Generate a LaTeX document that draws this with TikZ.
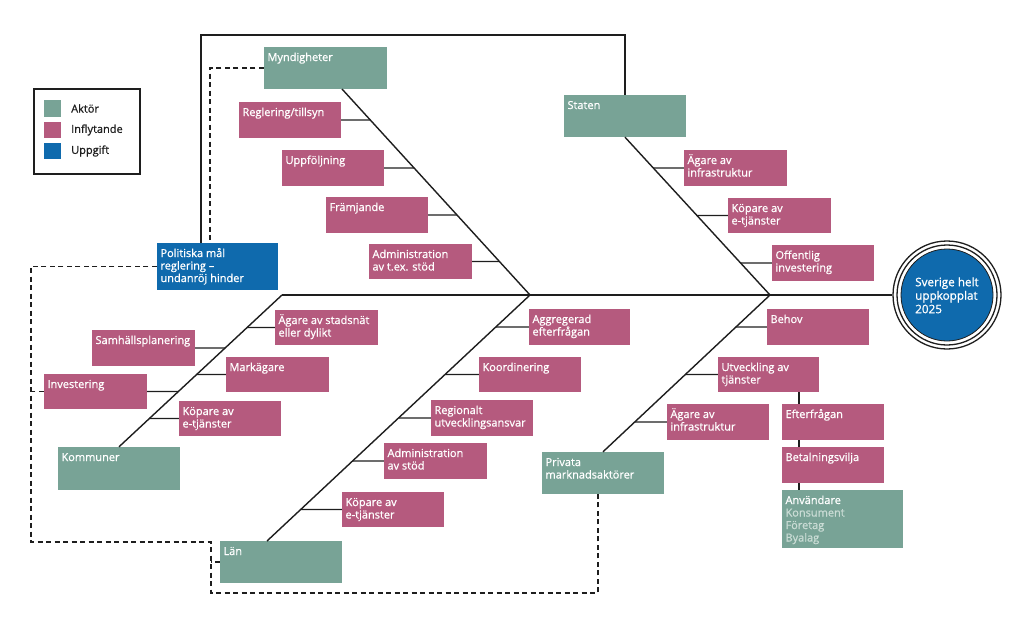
\documentclass[tikz,border=0pt]{standalone}
\usepackage{fontspec}
\setmainfont{Open Sans}[FakeBold=0.8,AutoFakeBold=0.8]
\usetikzlibrary{fit,calc}
\definecolor{aktor}{HTML}{78A396}
\definecolor{infl}{HTML}{B55A7E}
\definecolor{uppg}{HTML}{0F6AAD}
\definecolor{subtxt}{HTML}{CADCD5}
\definecolor{ln}{HTML}{1E1E1E}
\newcommand\fs{\fontsize{11}{12.5}\selectfont\bfseries}
\newcommand\ts{\rule{0pt}{10pt}}
\tikzset{
 box/.style={inner sep=0pt, draw=none},
 aktbox/.style={box, fill=aktor},
 inflbox/.style={box, fill=infl},
 uppbox/.style={box, fill=uppg},
 lbl/.style={anchor=north west, inner xsep=3.5pt, inner ysep=4pt, text=white, font=\fs, align=left},
 line/.style={draw=ln, line width=1.4pt},
 dline/.style={draw=ln, line width=1.4pt, dash pattern=on 5pt off 3.5pt},
 legtxt/.style={anchor=west, font=\fs, text=ln, inner sep=0pt},
}
\newcommand\bx[4]{\node[#1, fit={#3}, label={[lbl]north west:{\ts #4}}] (#2) {};}
\begin{document}
\begin{tikzpicture}[x=1pt,y=-1pt]
\useasboundingbox (0,0) rectangle (1024,618);
% legend
\node[draw=ln, line width=1.4pt, fit={(34,89) (140,174)}, inner sep=0pt] (legend) {};
\node[aktbox, fit={(44,100) (61,117)}] (swA) {};
\node[inflbox, fit={(44,122) (61,138)}] (swI) {};
\node[uppbox, fit={(44,143) (61,159)}] (swU) {};
\node[legtxt] (tA) at (71,108.5) {Aktör};
\node[legtxt] (tI) at (71,130) {Inflytande};
\node[legtxt] (tU) at (71,151) {Uppgift};
% actors
\bx{aktbox}{myn}{(264,47) (387,89)}{Myndigheter}
\bx{aktbox}{staten}{(564,95) (686,137)}{Staten}
\bx{aktbox}{kommuner}{(58,447) (180,490)}{Kommuner}
\bx{aktbox}{lan}{(220,541) (342,583)}{Län}
\bx{aktbox}{privata}{(542,452) (664,494)}{Privata\\marknadsaktörer}
\bx{aktbox}{anv}{(782,490) (903,548)}{Användare\\\textcolor{subtxt}{\mdseries Konsument}\\\textcolor{subtxt}{\mdseries Företag}\\\textcolor{subtxt}{\mdseries Byalag}}
% task
\bx{uppbox}{pol}{(157,243) (278,290)}{Politiska mål\\reglering –\\undanröj hinder}
% influences
\bx{inflbox}{regl}{(239,102) (341,138)}{Reglering/tillsyn}
\bx{inflbox}{uppf}{(282,150) (384,186)}{Uppföljning}
\bx{inflbox}{framj}{(326,197) (428,233)}{Främjande}
\bx{inflbox}{admA}{(369,244) (472,279)}{Administration\\av t.ex. stöd}
\bx{inflbox}{sAgare}{(684,150) (787,186)}{Ägare av\\infrastruktur}
\bx{inflbox}{sKop}{(728,198) (831,233)}{Köpare av\\e-tjänster}
\bx{inflbox}{sOff}{(772,245) (874,281)}{Offentlig\\investering}
\bx{inflbox}{samh}{(92,330) (195,366)}{Samhällsplanering}
\bx{inflbox}{inv}{(44,374) (147,409)}{Investering}
\bx{inflbox}{stads}{(275,310) (378,345)}{Ägare av stadsnät\\eller dylikt}
\bx{inflbox}{mark}{(226,357) (329,392)}{Markägare}
\bx{inflbox}{kKop}{(179,401) (281,436)}{Köpare av\\e-tjänster}
\bx{inflbox}{aggr}{(529,309) (630,345)}{Aggregerad\\efterfrågan}
\bx{inflbox}{koord}{(479,357) (581,392)}{Koordinering}
\bx{inflbox}{reg}{(431,400) (533,436)}{Regionalt\\utvecklingsansvar}
\bx{inflbox}{admL}{(384,443) (487,479)}{Administration\\av stöd}
\bx{inflbox}{lKop}{(342,492) (444,527)}{Köpare av\\e-tjänster}
\bx{inflbox}{behov}{(767,309) (869,345)}{Behov}
\bx{inflbox}{utv}{(718,357) (819,392)}{Utveckling av\\tjänster}
\bx{inflbox}{pAgare}{(667,404) (769,440)}{Ägare av\\infrastruktur}
\bx{inflbox}{eft}{(782,404) (884,440)}{Efterfrågan}
\bx{inflbox}{betal}{(782,447) (884,483)}{Betalningsvilja}
% goal
\node[circle, draw=ln, line width=1.3pt, minimum size=108pt, inner sep=0pt] (goal) at (947,295) {};
\node[circle, draw=ln, line width=1.3pt, minimum size=100pt, inner sep=0pt] (goalmid) at (goal) {};
\node[circle, fill=uppg, draw=ln, line width=0.8pt, minimum size=92pt, inner sep=0pt] (goalin) at (goal) {};
\node[anchor=north west, inner sep=0pt, text=white, font=\fontsize{11.7}{13.5}\selectfont\bfseries, align=left] (goaltxt) at (915,276) {\ts Sverige helt\\uppkopplat\\2025};
% coordinates
\coordinate (H0) at (282,295);
\coordinate (J1) at (530,295);
\coordinate (J2) at (770,295);
\coordinate (mynS) at (342,89);
\coordinate (lanN) at (267,541);
\coordinate (polN) at (201,243);
\coordinate (top1) at (201,35);
\coordinate (top2) at (625,35);
\coordinate (dX) at (210,0);
\coordinate (dA) at (31,542);
\coordinate (dB) at (211,593);
\coordinate (dC) at (598,593);
\coordinate (ux) at (799,0);
% main lines
\draw[line] (H0) -- (goal.west);
\draw[line] (polN) -- (top1) -- (top2) -- (staten.north);
\draw[line] (mynS) -- (J1);
\draw[line] (lanN) -- (J1);
\draw[line] (staten.south) -- (J2);
\draw[line] (privata.north) -- (J2);
\draw[line] (kommuner.north) -- (H0);
% ticks
\foreach \b in {regl,uppf,framj,admA}{
 \draw[line] (\b.east) -- (intersection of \b.east--\b.west and mynS--J1);}
\foreach \b in {sAgare,sKop,sOff}{
 \draw[line] (\b.west) -- (intersection of \b.east--\b.west and staten.south--J2);}
\foreach \b in {samh,inv}{
 \draw[line] (\b.east) -- (intersection of \b.east--\b.west and kommuner.north--H0);}
\foreach \b in {stads,mark,kKop}{
 \draw[line] (\b.west) -- (intersection of \b.east--\b.west and kommuner.north--H0);}
\foreach \b in {aggr,koord,reg,admL,lKop}{
 \draw[line] (\b.west) -- (intersection of \b.east--\b.west and lanN--J1);}
\foreach \b in {behov,utv,pAgare}{
 \draw[line] (\b.west) -- (intersection of \b.east--\b.west and privata.north--J2);}
\draw[line] (utv.south -| ux) -- (eft.north -| ux);
\draw[line] (eft.south -| ux) -- (betal.north -| ux);
\draw[line] (betal.south -| ux) -- (anv.north -| ux);
% dashed
\draw[dline] (myn.west) -- (myn.west -| dX) -- (pol.north -| dX);
\draw[dline] (pol.west) -| (dA) -| (dB) -| (dC) -- (privata.south -| dC);
\draw[dline] (inv.west) -- (inv.west -| dA);
\draw[dline] (lan.west) -- (lan.west -| dB);
\end{tikzpicture}
\end{document}
